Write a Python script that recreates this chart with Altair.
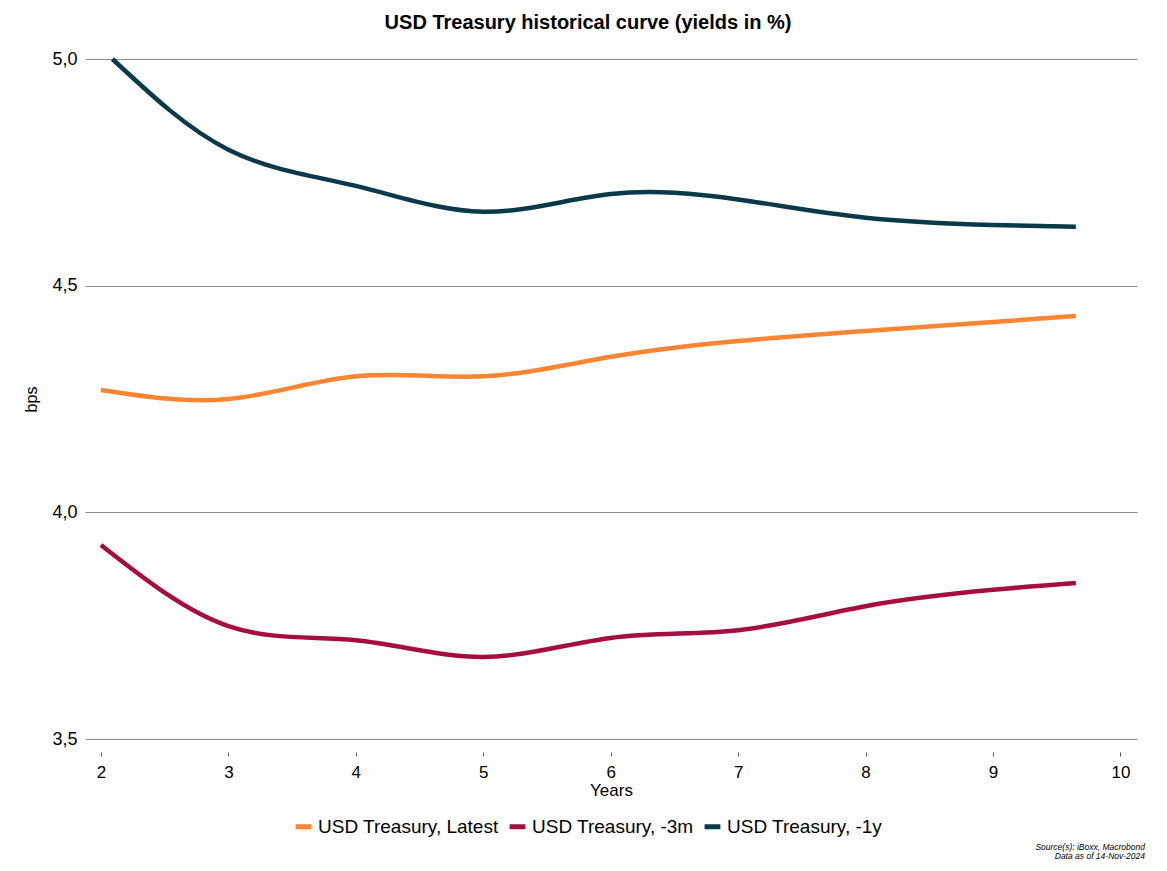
import altair as alt
import pandas as pd

years_latest = [2.0, 3.0, 4.0, 5.0, 6.0, 7.0, 8.0, 9.0, 9.65]
latest = [4.27, 4.25, 4.30, 4.30, 4.343, 4.378, 4.40, 4.42, 4.433]

years_3m = [2.0, 3.0, 4.0, 5.0, 6.0, 7.0, 8.0, 9.0, 9.65]
m3 = [3.928, 3.749, 3.718, 3.681, 3.723, 3.74, 3.793, 3.829, 3.844]

years_1y = [2.09, 3.0, 4.0, 5.0, 6.0, 7.0, 8.0, 9.0, 9.65]
y1 = [5.0, 4.80, 4.72, 4.663, 4.702, 4.69, 4.65, 4.634, 4.63]

series_names = ["USD Treasury, Latest", "USD Treasury, -3m", "USD Treasury, -1y"]
series_colors = ["#ff8533", "#a50e3f", "#0a3a4a"]

rows = []
for name, xs, ys in zip(series_names, [years_latest, years_3m, years_1y], [latest, m3, y1]):
    for x, y in zip(xs, ys):
        rows.append({"Years": x, "Yield": y, "Series": name})
df = pd.DataFrame(rows)

source_lines = ["Source(s): iBoxx, Macrobond", "Data as of 14-Nov-2024"]
src_df = pd.DataFrame({"t": source_lines, "i": [0, 1]})

font = "Liberation Sans"

lines = alt.Chart(df).mark_line(strokeWidth=4.5, interpolate="natural").encode(
    x=alt.X("Years:Q", scale=alt.Scale(domain=[1.875, 10.13], nice=False, zero=False),
            axis=alt.Axis(values=[2, 3, 4, 5, 6, 7, 8, 9, 10], title="Years", grid=False,
                          domain=False, tickSize=4, offset=13, labelPadding=8,
                          tickColor="#555", labelFontSize=17, titleFontSize=17,
                          titleFontWeight="normal", titlePadding=2, labelColor="#000",
                          titleColor="#000")),
    y=alt.Y("Yield:Q", scale=alt.Scale(domain=[3.5, 5.0], nice=False, zero=False),
            axis=alt.Axis(values=[3.5, 4.0, 4.5, 5.0], format=".1f",
                          labelExpr="replace(datum.label, '.', ',')",
                          title="bps", grid=True, gridColor="#8c8c8c", gridWidth=1.2,
                          domain=False, ticks=False, labelPadding=8,
                          labelFontSize=18, titleFontSize=16, titleFontWeight="normal",
                          titlePadding=12, labelColor="#000", titleColor="#000")),
    color=alt.Color("Series:N", sort=series_names,
                    scale=alt.Scale(domain=series_names, range=series_colors),
                    legend=alt.Legend(title=None, orient="none", direction="horizontal",
                                      legendX=208, legendY=757, symbolType="stroke",
                                      symbolStrokeWidth=5, symbolSize=250,
                                      labelFontSize=19, labelColor="#000", labelLimit=400,
                                      columnPadding=0, labelOffset=4)),
)

src = alt.Chart(src_df).mark_text(align="right", baseline="middle", fontSize=8.5,
                                  fontStyle="italic", font=font, color="#000").encode(
    x=alt.value(1060),
    y=alt.Y("i:O", axis=None, scale=alt.Scale(type="point", range=[788, 797], padding=0)),
    text="t:N",
)

chart = alt.layer(lines, src).resolve_scale(y="independent").properties(
    width=1052, height=680,
    title=alt.TitleParams("USD Treasury historical curve (yields in %)", fontSize=20,
                          fontWeight="bold", font=font, anchor="middle", dx=-23,
                          offset=17, color="#000"),
    padding={"left": 77, "top": 51, "right": 20, "bottom": 123},
    autosize=alt.AutoSizeParams(type="none"),
).configure(font=font).configure_view(stroke=None)

chart.save("out.html", embed_options={"renderer": "svg", "actions": False})
